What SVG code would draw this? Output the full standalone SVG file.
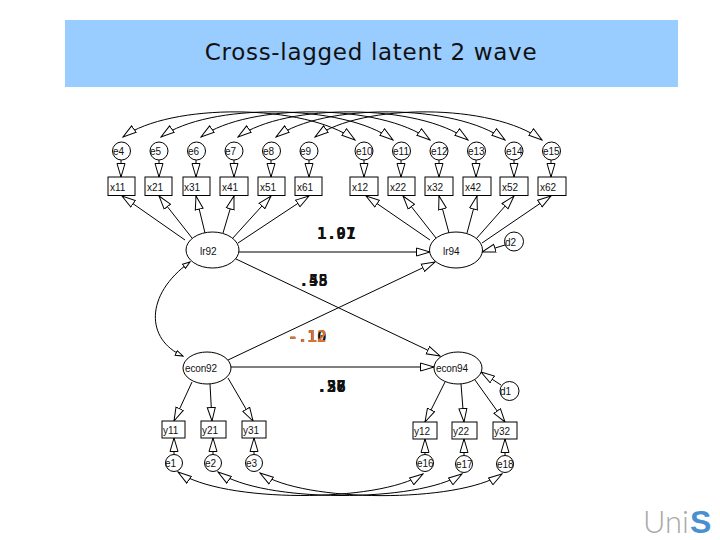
<svg xmlns="http://www.w3.org/2000/svg" width="720" height="540" viewBox="0 0 720 540">
<style>
.s{fill:#fff;stroke:#000;stroke-width:1}
.t{font-family:"Liberation Sans",Arial,sans-serif;font-size:10px;fill:#111}
.c path,.c line{fill:none;stroke:#000;stroke-width:1;marker-end:url(#a)}
.c .d{marker-start:url(#b)}
.c .k{marker-start:url(#bs);marker-end:url(#as)}
.n{font-family:"DejaVu Sans Mono","Liberation Mono",monospace;font-size:16px;font-weight:bold;fill:#111}
.o{fill:#d9722c}
</style>
<defs>
<marker id="a" markerUnits="userSpaceOnUse" markerWidth="15" markerHeight="10" refX="14" refY="5" orient="auto"><path d="M.5 1L14 5L.5 9Z" fill="#fff" stroke="#000" stroke-width="1"/></marker>
<marker id="b" markerUnits="userSpaceOnUse" markerWidth="15" markerHeight="10" refX="1" refY="5" orient="auto"><path d="M14.5 1L1 5L14.5 9Z" fill="#fff" stroke="#000" stroke-width="1"/></marker>
<marker id="as" markerUnits="userSpaceOnUse" markerWidth="9" markerHeight="7" refX="8" refY="3" orient="auto"><path d="M.5 .5L8 3L.5 5.5Z" fill="#fff" stroke="#000" stroke-width="1"/></marker>
<marker id="bs" markerUnits="userSpaceOnUse" markerWidth="9" markerHeight="7" refX="1" refY="3" orient="auto"><path d="M8.5 .5L1 3L8.5 5.5Z" fill="#fff" stroke="#000" stroke-width="1"/></marker>
</defs>
<rect width="720" height="540" fill="#fff"/>
<rect x="65" y="20" width="613" height="67" fill="#99ccff"/>
<text x="371" y="60" text-anchor="middle" font-family="'DejaVu Sans',Verdana,sans-serif" font-size="23" letter-spacing=".7" fill="#111">Cross-lagged latent 2 wave</text>
<g id="connectors" class="c">
<path class="d" d="M123 137C170 103 305 103 355 140"/>
<path class="d" d="M161 137C208 103 343 103 393 140"/>
<path class="d" d="M201 137C248 103 380 103 430 140"/>
<path class="d" d="M238 137C285 103 418 103 468 140"/>
<path class="d" d="M276 137C323 103 455 103 505 140"/>
<path class="d" d="M315 137C362 103 492 103 542 140"/>
<path class="d" d="M178 472C222 503 378 503 423 474"/>
<path class="d" d="M218 472C262 503 418 503 462 474"/>
<path class="d" d="M260 473C304 503 458 503 502 474"/>
<path class="k" d="M190 262C144 295 146 340 183 356"/>
<line x1="121" y1="160" x2="121" y2="177"/><line x1="159" y1="160" x2="159" y2="177"/><line x1="196" y1="160" x2="196" y2="177"/><line x1="234" y1="160" x2="234" y2="177"/><line x1="271" y1="160" x2="271" y2="177"/><line x1="309" y1="160" x2="309" y2="177"/>
<line x1="364" y1="160" x2="364" y2="177"/><line x1="401" y1="160" x2="401" y2="177"/><line x1="439" y1="160" x2="439" y2="177"/><line x1="476" y1="160" x2="476" y2="177"/><line x1="514" y1="160" x2="514" y2="177"/><line x1="551" y1="160" x2="551" y2="177"/>
<line x1="185" y1="240" x2="122" y2="196"/><line x1="192" y1="238" x2="159" y2="196"/><line x1="205" y1="233" x2="196" y2="196"/><line x1="223" y1="233" x2="234" y2="196"/><line x1="232" y1="239" x2="271" y2="196"/><line x1="238" y1="243" x2="309" y2="196"/>
<line x1="430" y1="240" x2="366" y2="196"/><line x1="436" y1="238" x2="403" y2="196"/><line x1="449" y1="233" x2="439" y2="196"/><line x1="467" y1="233" x2="477" y2="196"/><line x1="476" y1="239" x2="514" y2="196"/><line x1="482" y1="243" x2="551" y2="196"/>
<line x1="505" y1="245" x2="482" y2="252"/>
<line x1="501" y1="385" x2="481" y2="372"/>
<line x1="238" y1="252" x2="430" y2="252"/>
<line x1="231" y1="367" x2="434" y2="367"/>
<line x1="236" y1="259" x2="440" y2="356"/>
<line x1="228" y1="360" x2="435" y2="262"/>
<line x1="192" y1="382" x2="174" y2="421"/><line x1="210" y1="384" x2="212" y2="421"/><line x1="228" y1="378" x2="253" y2="421"/>
<line x1="445" y1="382" x2="425" y2="422"/><line x1="461" y1="384" x2="464" y2="422"/><line x1="475" y1="380" x2="505" y2="422"/>
<line x1="174" y1="454" x2="174" y2="438"/><line x1="213" y1="454" x2="213" y2="438"/><line x1="254" y1="454" x2="254" y2="438"/>
<line x1="425" y1="454" x2="425" y2="439"/><line x1="464" y1="455" x2="464" y2="439"/><line x1="505" y1="455" x2="505" y2="439"/>
</g>
<g id="e4"><circle class="s" cx="121.5" cy="151" r="9"/><text class="t" x="113" y="155">e4</text></g>
<g id="e5"><circle class="s" cx="159" cy="151" r="9"/><text class="t" x="150" y="155">e5</text></g>
<g id="e6"><circle class="s" cx="196.5" cy="151" r="9"/><text class="t" x="188" y="155">e6</text></g>
<g id="e7"><circle class="s" cx="234" cy="151" r="9"/><text class="t" x="225" y="155">e7</text></g>
<g id="e8"><circle class="s" cx="271.5" cy="151" r="9"/><text class="t" x="263" y="155">e8</text></g>
<g id="e9"><circle class="s" cx="309" cy="151" r="9"/><text class="t" x="300" y="155">e9</text></g>
<g id="e10"><circle class="s" cx="364" cy="151" r="9"/><text class="t" x="356" y="155">e10</text></g>
<g id="e11"><circle class="s" cx="401.5" cy="151" r="9"/><text class="t" x="393" y="155">e11</text></g>
<g id="e12"><circle class="s" cx="439" cy="151" r="9"/><text class="t" x="431" y="155">e12</text></g>
<g id="e13"><circle class="s" cx="476.5" cy="151" r="9"/><text class="t" x="468" y="155">e13</text></g>
<g id="e14"><circle class="s" cx="514" cy="151" r="9"/><text class="t" x="506" y="155">e14</text></g>
<g id="e15"><circle class="s" cx="551.5" cy="151" r="9"/><text class="t" x="543" y="155">e15</text></g>
<g id="x11"><rect class="s" x="108" y="177" width="27" height="18.5"/><text class="t" x="110" y="191">x11</text></g>
<g id="x21"><rect class="s" x="145" y="177" width="27" height="18.5"/><text class="t" x="147" y="191">x21</text></g>
<g id="x31"><rect class="s" x="183" y="177" width="27" height="18.5"/><text class="t" x="184" y="191">x31</text></g>
<g id="x41"><rect class="s" x="220" y="177" width="28" height="18.5"/><text class="t" x="222" y="191">x41</text></g>
<g id="x51"><rect class="s" x="258" y="177" width="27" height="18.5"/><text class="t" x="260" y="191">x51</text></g>
<g id="x61"><rect class="s" x="295" y="177" width="27" height="18.5"/><text class="t" x="297" y="191">x61</text></g>
<g id="x12"><rect class="s" x="350" y="177" width="28" height="18.5"/><text class="t" x="352" y="191">x12</text></g>
<g id="x22"><rect class="s" x="388" y="177" width="27" height="18.5"/><text class="t" x="390" y="191">x22</text></g>
<g id="x32"><rect class="s" x="425" y="177" width="28" height="18.5"/><text class="t" x="427" y="191">x32</text></g>
<g id="x42"><rect class="s" x="463" y="177" width="28" height="18.5"/><text class="t" x="465" y="191">x42</text></g>
<g id="x52"><rect class="s" x="500" y="177" width="28" height="18.5"/><text class="t" x="502" y="191">x52</text></g>
<g id="x62"><rect class="s" x="538" y="177" width="28" height="18.5"/><text class="t" x="540" y="191">x62</text></g>
<g id="lr92"><ellipse class="s" cx="212.5" cy="250" rx="26.5" ry="18"/><text class="t" x="200" y="255">lr92</text></g>
<g id="lr94"><ellipse class="s" cx="456" cy="250" rx="26.5" ry="18"/><text class="t" x="443" y="255">lr94</text></g>
<g id="d2"><circle class="s" cx="514" cy="241.5" r="9.5"/><text class="t" x="505" y="246">d2</text></g>
<g id="econ92"><ellipse class="s" cx="207" cy="368" rx="24" ry="16"/><text class="t" x="185" y="372" textLength="32">econ92</text></g>
<g id="econ94"><ellipse class="s" cx="458" cy="368" rx="24" ry="16"/><text class="t" x="436" y="372" textLength="32">econ94</text></g>
<g id="d1"><circle class="s" cx="509.5" cy="391" r="9.5"/><text class="t" x="500" y="395">d1</text></g>
<g id="y11"><rect class="s" x="162" y="421" width="23" height="17"/><text class="t" x="163" y="434">y11</text></g>
<g id="y21"><rect class="s" x="201" y="421" width="25" height="17"/><text class="t" x="202" y="434">y21</text></g>
<g id="y31"><rect class="s" x="242" y="421" width="24" height="17"/><text class="t" x="243" y="434">y31</text></g>
<g id="y12"><rect class="s" x="413" y="422" width="24" height="17"/><text class="t" x="414" y="435">y12</text></g>
<g id="y22"><rect class="s" x="452" y="422" width="25" height="17"/><text class="t" x="453" y="435">y22</text></g>
<g id="y32"><rect class="s" x="493" y="422" width="24" height="17"/><text class="t" x="494" y="435">y32</text></g>
<g id="e1"><circle class="s" cx="174" cy="463" r="8.5"/><text class="t" x="165" y="467">e1</text></g>
<g id="e2"><circle class="s" cx="213" cy="463" r="8.5"/><text class="t" x="205" y="467">e2</text></g>
<g id="e3"><circle class="s" cx="254" cy="463" r="8.5"/><text class="t" x="246" y="467">e3</text></g>
<g id="e16"><circle class="s" cx="425" cy="463" r="8.5"/><text class="t" x="417" y="467">e16</text></g>
<g id="e17"><circle class="s" cx="464" cy="464" r="8.5"/><text class="t" x="456" y="468">e17</text></g>
<g id="e18"><circle class="s" cx="505" cy="464" r="8.5"/><text class="t" x="497" y="468">e18</text></g>
<g id="labels">
<text class="n" x="317" y="239">1.07</text><text class="n" x="317" y="239">1.91</text>
<text class="n" x="299" y="286">.45</text><text class="n" x="299" y="286">.58</text>
<text class="n" x="288" y="342">-.10</text><text class="n o" x="288" y="342">-.12</text>
<text class="n" x="317" y="392">.57</text><text class="n" x="317" y="392">.26</text><text class="n" x="317" y="392">.38</text>
</g>
<g id="logo"><text x="643" y="533" font-family="Lato,'Open Sans',sans-serif" font-weight="300" font-size="32" textLength="46" lengthAdjust="spacingAndGlyphs" fill="#a8a8a8">Uni</text><text x="690" y="533" font-family="'Liberation Sans',sans-serif" font-weight="bold" font-size="32" fill="#4a90d0">S</text></g>
</svg>
